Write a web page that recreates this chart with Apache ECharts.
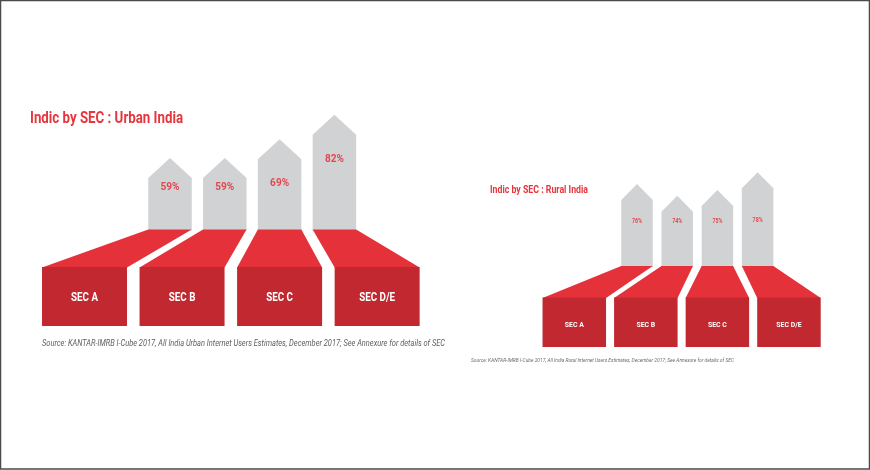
<!DOCTYPE html>
<html>
<head>
<meta charset="utf-8">
<script src="https://cdn.jsdelivr.net/npm/echarts@6/dist/echarts.min.js"></script>
<style>
html,body{margin:0;padding:0;background:#fff;}
#c{width:870px;height:470px;}
</style>
</head>
<body>
<div id="c"></div>
<script>
// ---- data ----
const urbanCategories = ['SEC A', 'SEC B', 'SEC C', 'SEC D/E'];
const urbanValues = [59, 59, 69, 82];
const ruralCategories = ['SEC A', 'SEC B', 'SEC C', 'SEC D/E'];
const ruralValues = [76, 74, 75, 78];
const urbanTitle = 'Indic by SEC : Urban India';
const ruralTitle = 'Indic by SEC : Rural India';
const urbanSource = 'Source: KANTAR-IMRB I-Cube 2017, All India Urban Internet Users Estimates, December 2017; See Annexure for details of SEC';
const ruralSource = 'Source: KANTAR-IMRB I-Cube 2017, All India Rural Internet Users Estimates, December 2017; See Annexure for details of SEC';

// ---- styling helpers ----
const measureCtx = document.createElement('canvas').getContext('2d');
function fitScale(text, font, target) {
  measureCtx.font = font;
  return target / measureCtx.measureText(text).width;
}
const GREY = '#d1d2d4', TRAP = '#e5313a', BOX = '#c1282f', PCT = '#e0484f', TITLE = '#e6353c';

const urbanCfg = {
  arrowW: 43.5, roofRise: 20, baseY: 229.5, boxTop: 267, boxBottom: 326, boxW: 85, k: 1.78, fanIndex: 2,
  secFontSize: 13, secRef: 27, secDy: 1.5,
  pctFontSize: 11, pctRef: 19, pctY: 187, pctOffset: 44
};
const ruralCfg = {
  arrowW: 31.5, roofRise: 16, baseY: 266, boxTop: 297.5, boxBottom: 347, boxW: 63.5, k: 1.78, fanIndex: 2,
  secFontSize: 7.5, secRef: 19, secDy: 2.5,
  pctFontSize: 7, pctRef: 10, pctY: 221, pctOffset: 48
};
const FONT = 'Roboto, "Noto Sans", sans-serif';

function makeSeries(cfg, axisIdx, cats, vals) {
  const secFont = 'bold ' + cfg.secFontSize + 'px ' + FONT;
  const secScale = fitScale('SEC A', secFont, cfg.secRef);
  const pctFont = 'bold ' + cfg.pctFontSize + 'px ' + FONT;
  const pctScale = fitScale('59%', pctFont, cfg.pctRef);
  return {
    type: 'custom',
    xAxisIndex: axisIdx,
    yAxisIndex: axisIdx,
    silent: true,
    data: vals.map((v, i) => [i, v]),
    encode: { x: 0, y: 1 },
    renderItem: function (params, api) {
      const i = api.value(0), v = api.value(1);
      const peak = api.coord([i, v]);
      const ax = peak[0], py = peak[1];
      const fanX = api.coord([cfg.fanIndex, v])[0];
      const hw = cfg.arrowW / 2;
      const shoulder = py + cfg.roofRise;
      const bx = fanX + cfg.k * (ax - fanX);
      const bhw = cfg.boxW / 2;
      const labelY = Math.min(cfg.pctY, py + cfg.pctOffset);
      return {
        type: 'group',
        children: [
          { type: 'polygon', shape: { points: [[ax, py], [ax + hw, shoulder], [ax + hw, cfg.baseY + 1], [ax - hw, cfg.baseY + 1], [ax - hw, shoulder]] }, style: { fill: GREY } },
          { type: 'polygon', shape: { points: [[ax - hw, cfg.baseY], [ax + hw, cfg.baseY], [bx + bhw, cfg.boxTop + 0.5], [bx - bhw, cfg.boxTop + 0.5]] }, style: { fill: TRAP } },
          { type: 'rect', shape: { x: bx - bhw, y: cfg.boxTop, width: cfg.boxW, height: cfg.boxBottom - cfg.boxTop }, style: { fill: BOX } },
          { type: 'text', x: bx, y: (cfg.boxTop + cfg.boxBottom) / 2 + cfg.secDy, scaleX: secScale,
            style: { text: cats[i], x: 0, y: 0, font: secFont, fill: '#ffffff', align: 'center', verticalAlign: 'middle' } },
          { type: 'text', x: ax, y: labelY, scaleX: pctScale,
            style: { text: v + '%', x: 0, y: 0, font: pctFont, fill: PCT, align: 'center', verticalAlign: 'middle' } }
        ]
      };
    }
  };
}

function textEl(text, x, y, font, fill, target) {
  return { type: 'text', x: x, y: y, scaleX: fitScale(text, font, target), silent: true,
    style: { text: text, x: 0, y: 0, font: font, fill: fill, align: 'left', verticalAlign: 'middle' } };
}

const chart = echarts.init(document.getElementById('c'));
chart.setOption({
  animation: false,
  backgroundColor: '#ffffff',
  grid: [
    { left: 142.6, width: 219.2, top: 81, height: 188 },
    { left: 616.9, width: 160.8, top: 160.5, height: 105.9 }
  ],
  xAxis: [
    { type: 'category', gridIndex: 0, data: urbanCategories, show: false },
    { type: 'category', gridIndex: 1, data: ruralCategories, show: false }
  ],
  yAxis: [
    { type: 'value', gridIndex: 0, min: 0, max: 100, show: false },
    { type: 'value', gridIndex: 1, min: 62, max: 80, show: false }
  ],
  series: [
    makeSeries(urbanCfg, 0, urbanCategories, urbanValues),
    makeSeries(ruralCfg, 1, ruralCategories, ruralValues)
  ],
  graphic: [
    { type: 'rect', silent: true, shape: { x: 0.5, y: 0.5, width: 869, height: 468.5 }, style: { fill: null, stroke: '#4a4a4a', lineWidth: 1.5 } },
    textEl(urbanTitle, 30, 119, 'bold 17px ' + FONT, TITLE, 153),
    textEl(ruralTitle, 490, 190, 'bold 10px ' + FONT, TITLE, 98),
    textEl(urbanSource, 42, 344, 'italic 9px ' + FONT, '#5e5e5e', 403),
    textEl(ruralSource, 471, 361, 'italic 5.5px ' + FONT, '#6e6e6e', 263)
  ]
});
</script>
</body>
</html>
